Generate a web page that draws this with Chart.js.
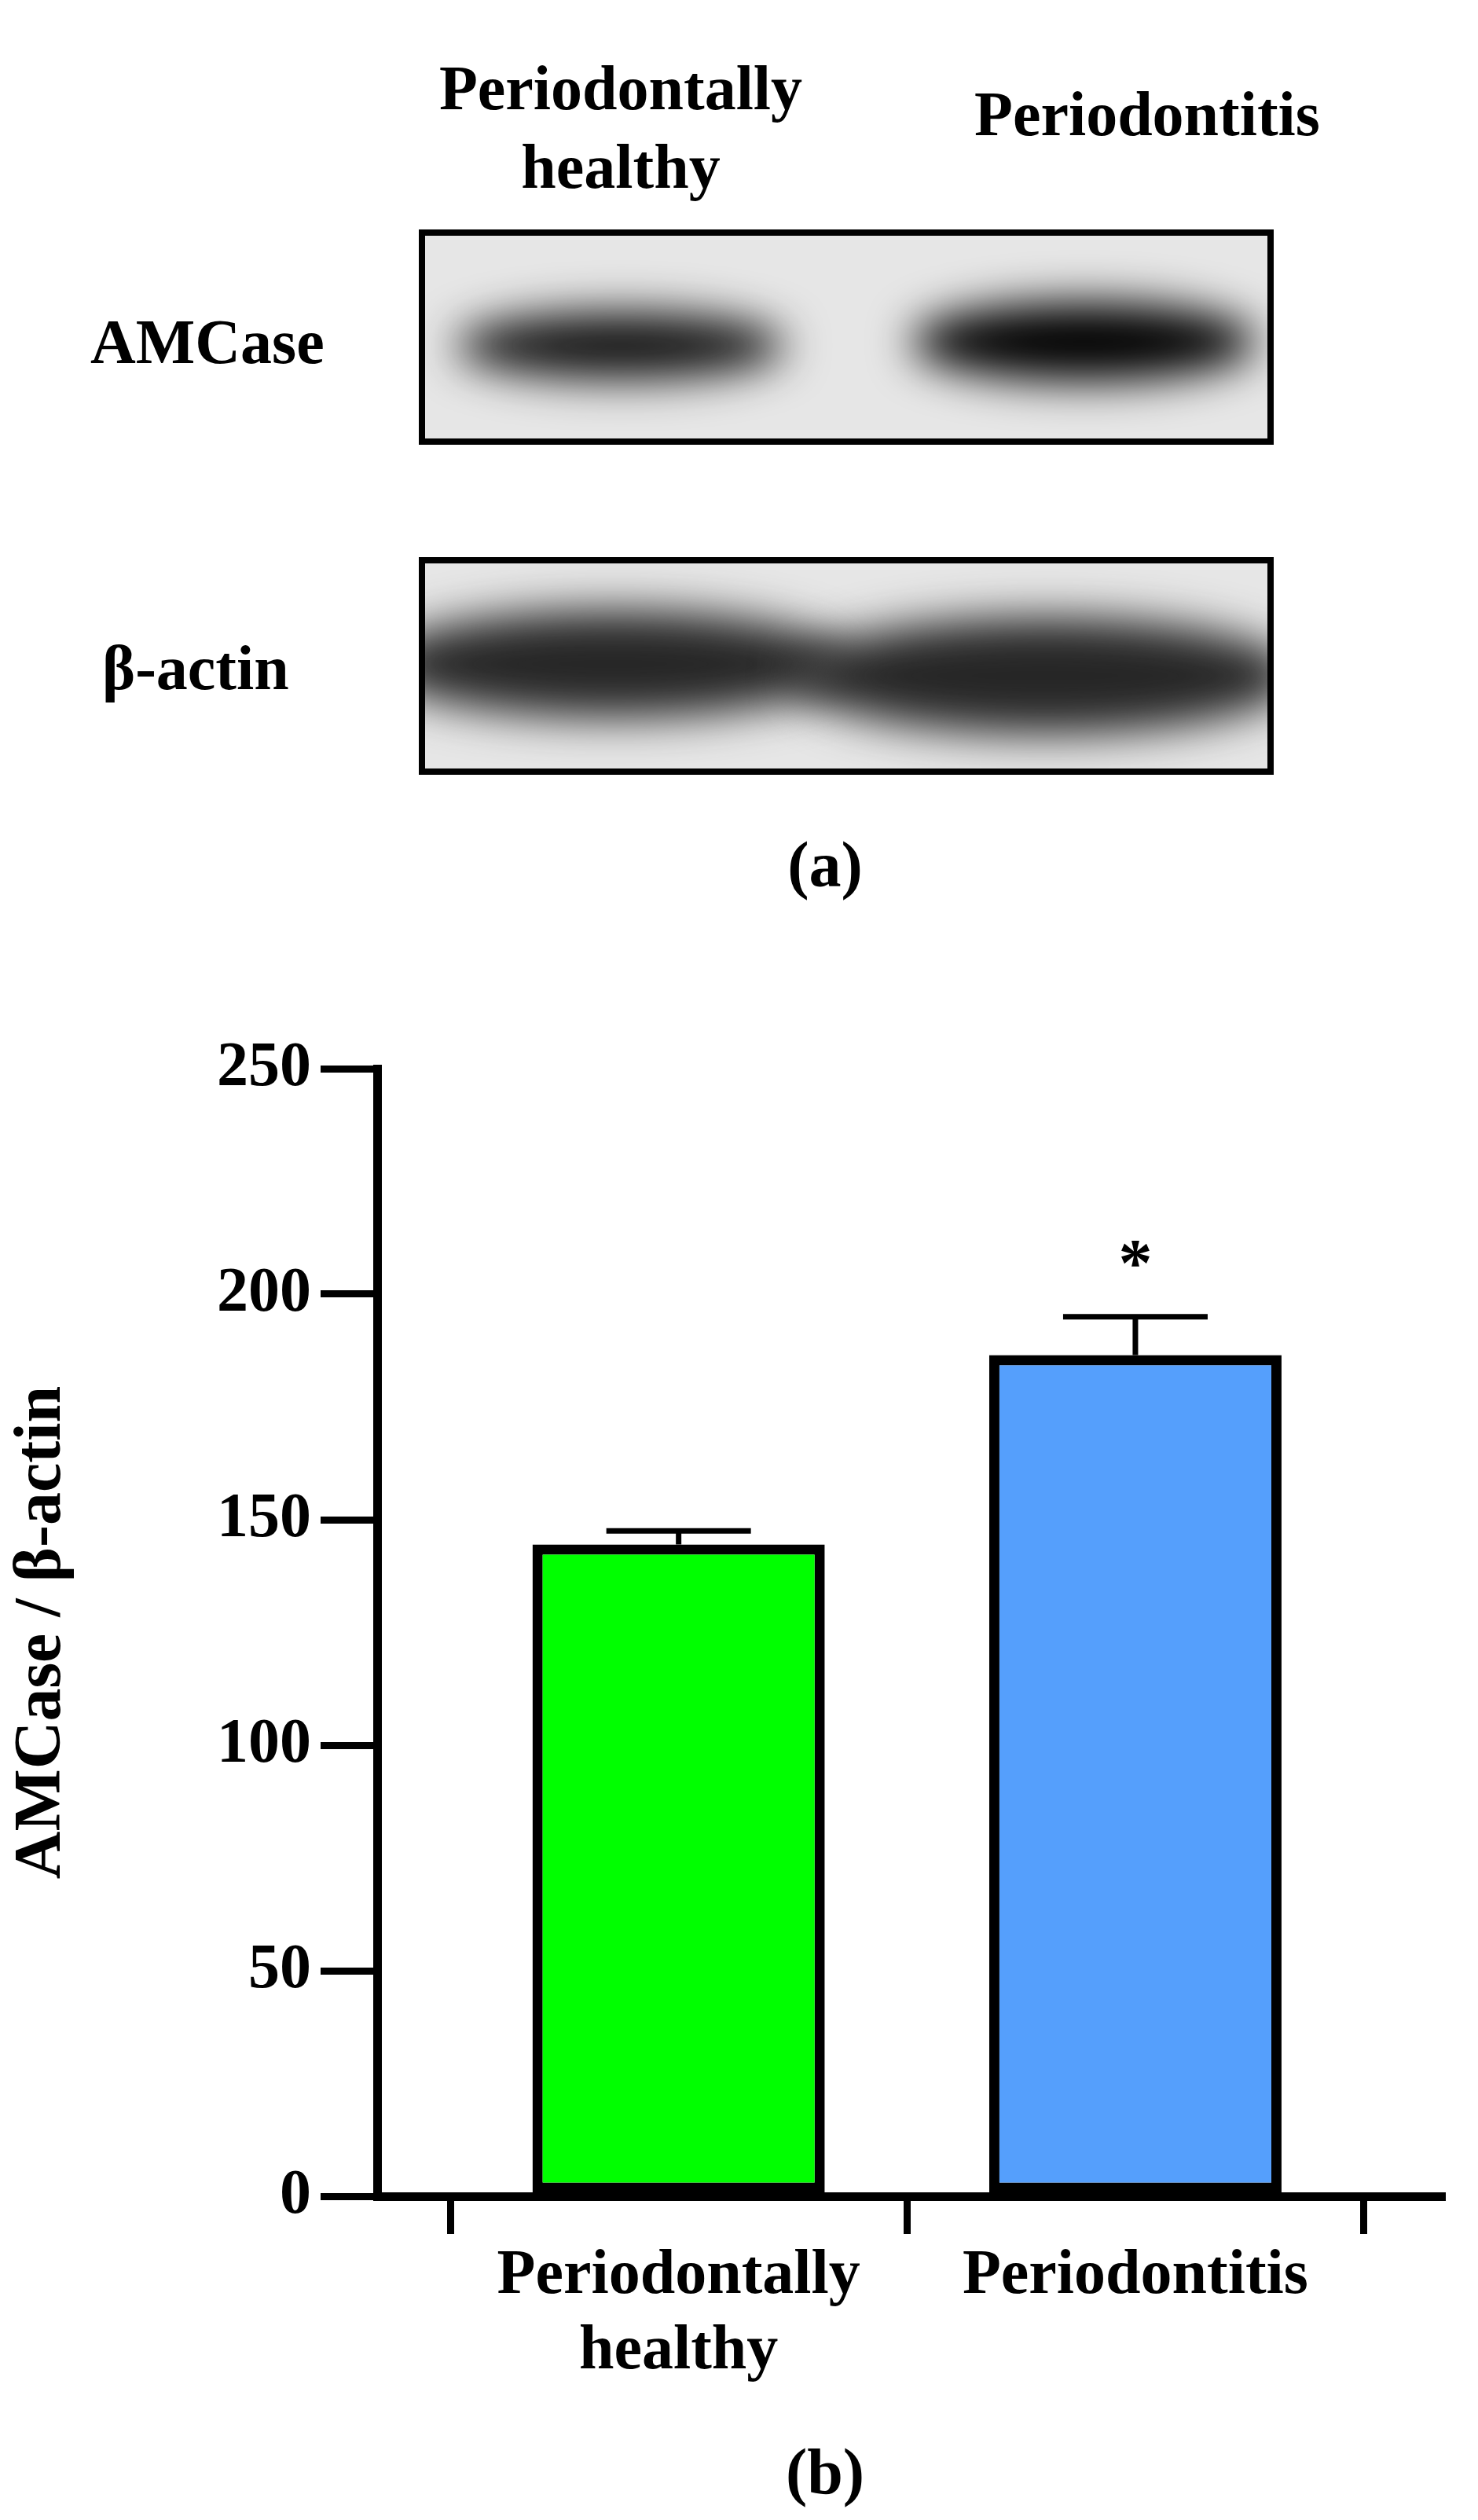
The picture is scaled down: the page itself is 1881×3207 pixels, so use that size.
<!DOCTYPE html>
<html>
<head>
<meta charset="utf-8">
<script src="https://cdn.jsdelivr.net/npm/chart.js@4"></script>
<style>
  body { margin: 0; background: #fff; font-family: "Liberation Serif", serif; font-weight: bold; }
  .txt { position: absolute; color: #000; text-align: center; line-height: 1.25; }
</style>
</head>
<body>
<div style="position:relative;width:1881px;height:3207px;">
  <div class="txt" style="left:470px;top:62px;width:640px;font-size:80px;">Periodontally<br>healthy</div>
  <div class="txt" style="left:1150px;top:95px;width:620px;font-size:80px;">Periodontitis</div>
  <div class="txt" style="left:60px;top:385px;width:440px;font-size:80px;text-align:left;padding-left:55px;">AMCase</div>
  <div class="txt" style="left:60px;top:800px;width:440px;font-size:80px;text-align:left;padding-left:70px;">β-actin</div>
  <canvas id="blot" width="1881" height="1000" style="position:absolute;left:0;top:0;"></canvas>
  <div class="txt" style="left:900px;top:1050px;width:300px;font-size:82px;">(a)</div>
  <div style="position:absolute;left:0;top:1300px;width:1881px;height:1907px;">
    <canvas id="barChart"></canvas>
  </div>
  <div class="txt" style="left:900px;top:3095px;width:300px;font-size:82px;">(b)</div>
</div>
<script>
// western blot strips (image panel, not data)
function drawBlot() {
  const c = document.getElementById('blot').getContext('2d');
  function box(x, y, w, h, bands) {
    c.save();
    c.beginPath(); c.rect(x, y, w, h); c.clip();
    c.fillStyle = '#e6e6e6'; c.fillRect(x, y, w, h);
    c.filter = 'blur(28px)';
    bands.forEach(b => {
      c.fillStyle = b.col;
      c.beginPath();
      c.ellipse(b.cx, b.cy, b.rx, b.ry, 0, 0, Math.PI * 2);
      c.fill();
    });
    c.restore();
    c.lineWidth = 8; c.strokeStyle = '#000';
    c.strokeRect(x, y, w, h);
  }
  box(537, 296, 1080, 266, [
    { cx: 790, cy: 440, rx: 210, ry: 42, col: '#111' },
    { cx: 1380, cy: 435, rx: 220, ry: 50, col: '#000' }
  ]);
  box(537, 713, 1080, 269, [
    { cx: 780, cy: 845, rx: 300, ry: 68, col: '#262626' },
    { cx: 1330, cy: 860, rx: 320, ry: 74, col: '#262626' }
  ]);
}
drawBlot();

// bar chart data
const categories = [['Periodontally', 'healthy'], 'Periodontitis'];
const ratioValues = [144.5, 186.5];
const errorValues = [3, 8.5];
const barColors = ['#00ff00', '#559ffc'];
const yTicks = [0, 50, 100, 150, 200, 250];

const errorBarPlugin = {
  id: 'errorBars',
  afterDatasetsDraw(chart) {
    const ctx = chart.ctx;
    const meta = chart.getDatasetMeta(0);
    const y = chart.scales.y;
    ctx.save();
    ctx.strokeStyle = '#000';
    ctx.lineWidth = 7;
    meta.data.forEach((bar, i) => {
      const top = y.getPixelForValue(ratioValues[i] + errorValues[i]);
      const base = y.getPixelForValue(ratioValues[i]);
      ctx.beginPath();
      ctx.moveTo(bar.x, base); ctx.lineTo(bar.x, top);
      ctx.moveTo(bar.x - 92, top); ctx.lineTo(bar.x + 92, top);
      ctx.stroke();
    });
    const b = meta.data[1];
    ctx.fillStyle = '#000';
    ctx.font = 'bold 86px "Liberation Serif"';
    ctx.textAlign = 'center';
    ctx.fillText('*', b.x, y.getPixelForValue(ratioValues[1] + errorValues[1]) - 40);
    ctx.restore();
  }
};

const tickFont = { family: 'Liberation Serif', weight: 'bold', size: 80 };

new Chart(document.getElementById('barChart'), {
  type: 'bar',
  data: {
    datasets: [{
      data: ratioValues.map((v, i) => ({ x: i, y: v })),
      backgroundColor: barColors,
      borderColor: '#000',
      borderWidth: 13,
      borderSkipped: false,
      barPercentage: 0.64,
      categoryPercentage: 1
    }]
  },
  options: {
    responsive: true,
    maintainAspectRatio: false,
    animation: false,
    layout: { padding: { top: 58, right: 46, left: 0, bottom: 0 } },
    plugins: { legend: { display: false }, tooltip: { enabled: false } },
    scales: {
      x: {
        type: 'linear', min: -0.66, max: 1.671, offset: false,
        afterFit: s => { s.height = 412; },
        afterBuildTicks: s => { s.ticks = [{ value: 0 }, { value: 1 }]; },
        border: { color: '#000', width: 11 },
        grid: { drawOnChartArea: false, color: '#000', lineWidth: 9, tickLength: 48 },
        ticks: {
          color: '#000', padding: 6, font: tickFont,
          callback: v => categories[v]
        }
      },
      y: {
        min: 0, max: 250,
        afterFit: s => { s.width = 480; },
        afterBuildTicks: s => { s.ticks = yTicks.map(v => ({ value: v })); },
        border: { color: '#000', width: 11 },
        grid: { drawOnChartArea: false, color: '#000', lineWidth: 9, tickLength: 72 },
        title: {
          display: true, text: 'AMCase / β-actin', color: '#000',
          font: { family: 'Liberation Serif', weight: 'bold', size: 84 }, padding: { bottom: 30 }
        },
        ticks: { color: '#000', padding: 12, font: tickFont }
      }
    }
  },
  plugins: [errorBarPlugin]
});
</script>
</body>
</html>
